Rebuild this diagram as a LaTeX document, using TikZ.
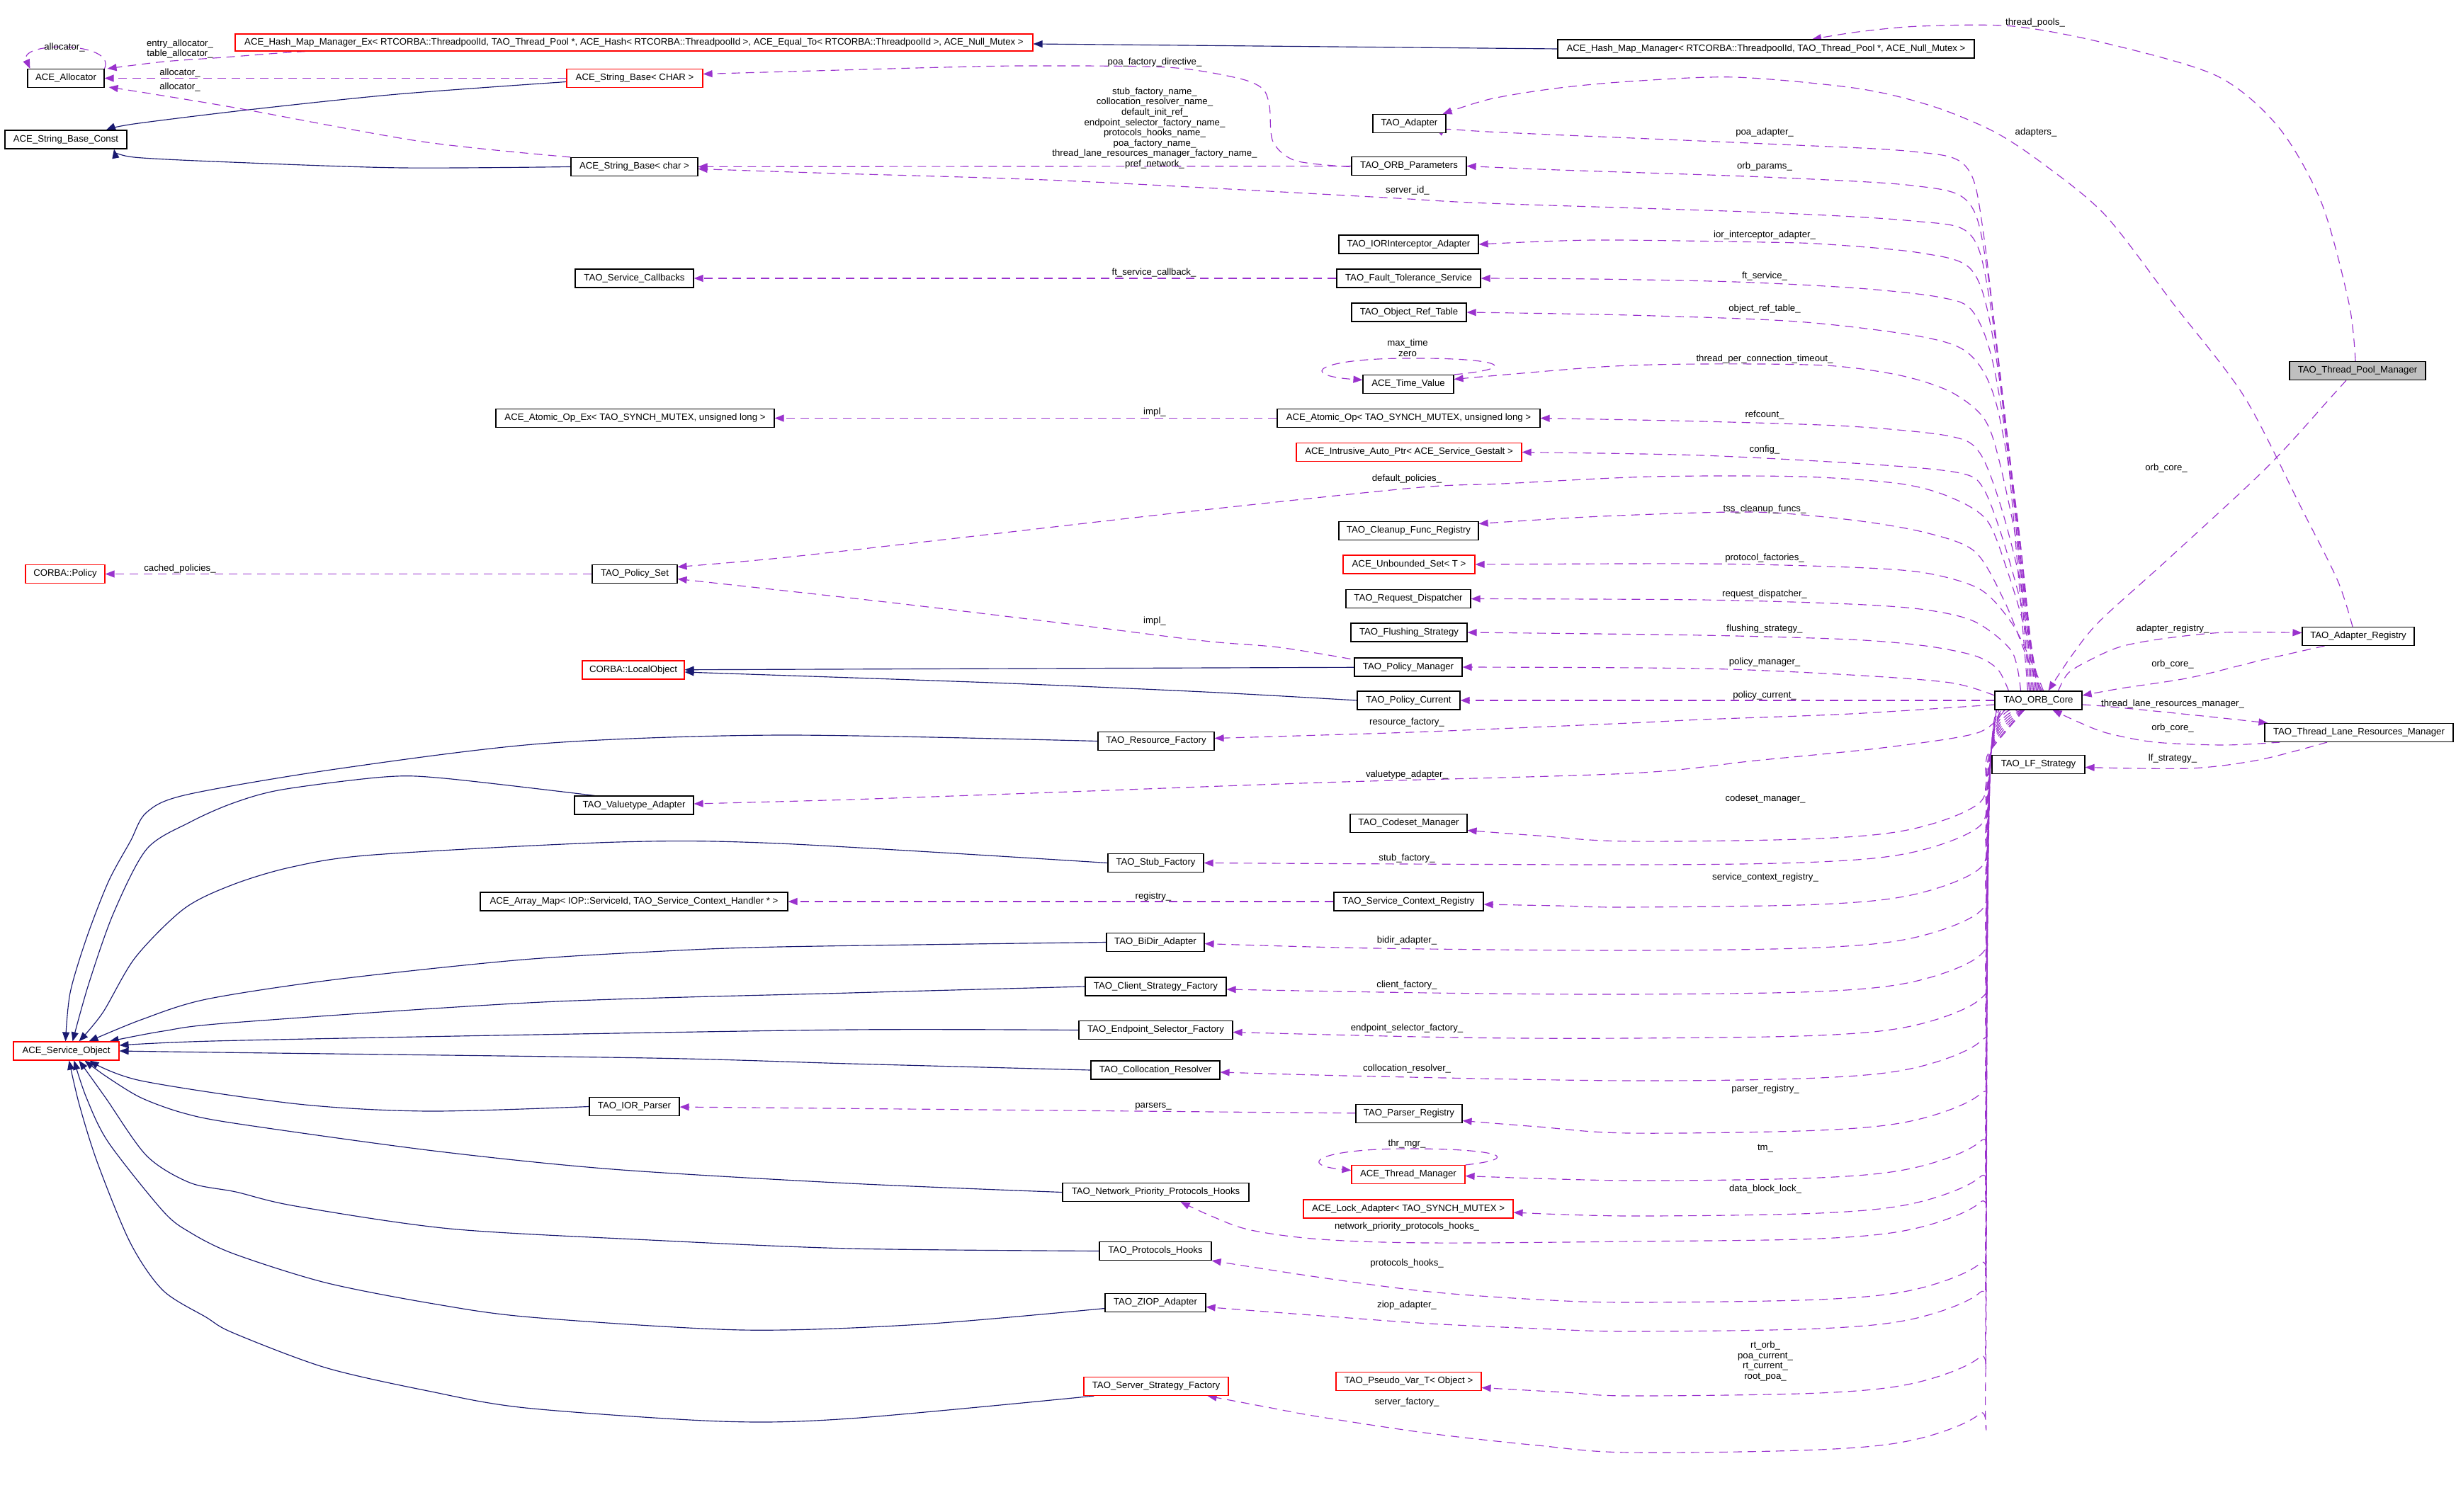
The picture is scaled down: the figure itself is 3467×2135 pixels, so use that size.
\documentclass[tikz,border=0pt]{standalone}
\usepackage{fontspec}
\setmainfont{Liberation Sans}
\usetikzlibrary{arrows.meta,calc}
\definecolor{purp}{HTML}{9A32CD}
\definecolor{navy}{HTML}{191970}
\definecolor{grayfill}{HTML}{BFBFBF}
\newcommand\lbl{\fontsize{13.2}{14.6}\selectfont}
\pgfdeclarelayer{edges}
\pgfsetlayers{edges,main}
\newcommand\lowedge[2]{\draw[use] plot[smooth,tension=0.55] coordinates {(cS) (2811,1058) (2803,#1-110) (2795,#1-55) (2702,#1-18) (2568,#1-4) (2300,#1) #2};}
\begin{document}
\begin{tikzpicture}[x=1pt,y=-1pt,
 box/.style={draw=black,line width=1.15pt,fill=white,minimum height=26pt,inner xsep=3pt,inner ysep=0pt,font=\lbl},
 rbox/.style={box,draw=red},
 lab/.style={font=\lbl,inner sep=0pt,align=center},
 use/.style={draw=purp,line width=1.15pt,dash pattern=on 12pt off 8pt,-{Triangle[length=13pt,width=10pt]}},
 inh/.style={draw=navy,line width=1.15pt,-{Triangle[length=13pt,width=10pt]}}]
\useasboundingbox (0,0) rectangle (3467,2135);
% ---------------- nodes
\node[box,minimum width=108pt] (alloc) at (93,110.5) {ACE\_Allocator};
\node[box,minimum width=172pt] (sbconst) at (93,197) {ACE\_String\_Base\_Const};
\node[rbox,minimum width=1126pt,minimum height=24pt] (hmmex) at (895,60) {ACE\_Hash\_Map\_Manager\_Ex< RTCORBA::ThreadpoolId, TAO\_Thread\_Pool *, ACE\_Hash< RTCORBA::ThreadpoolId >, ACE\_Equal\_To< RTCORBA::ThreadpoolId >, ACE\_Null\_Mutex >};
\node[rbox,minimum width=192pt] (sbCHAR) at (896,110.5) {ACE\_String\_Base< CHAR >};
\node[box,minimum width=179pt] (sbchar) at (895.5,235.5) {ACE\_String\_Base< char >};
\node[box,minimum width=588pt] (hmm) at (2493,69) {ACE\_Hash\_Map\_Manager< RTCORBA::ThreadpoolId, TAO\_Thread\_Pool *, ACE\_Null\_Mutex >};
\node[box,fill=grayfill,minimum width=192pt] (tpm) at (3328,523.5) {TAO\_Thread\_Pool\_Manager};
\node[box,minimum width=103pt] (adapter) at (1989.5,174.5) {TAO\_Adapter};
\node[box,minimum width=162pt] (orbparams) at (1989,234.5) {TAO\_ORB\_Parameters};
\node[box,minimum width=197pt] (ioria) at (1988.5,345) {TAO\_IORInterceptor\_Adapter};
\node[box,minimum width=167pt] (svccb) at (895.5,393) {TAO\_Service\_Callbacks};
\node[box,minimum width=203pt] (fts) at (1988.5,393) {TAO\_Fault\_Tolerance\_Service};
\node[box,minimum width=162pt] (ort) at (1989,441) {TAO\_Object\_Ref\_Table};
\node[box,minimum width=128pt] (tv) at (1988,542.5) {ACE\_Time\_Value};
\node[box,minimum width=393pt] (aopex) at (896.5,590.5) {ACE\_Atomic\_Op\_Ex< TAO\_SYNCH\_MUTEX, unsigned long >};
\node[box,minimum width=371pt] (aop) at (1988.5,590.5) {ACE\_Atomic\_Op< TAO\_SYNCH\_MUTEX, unsigned long >};
\node[rbox,minimum width=318pt] (iap) at (1989,638.5) {ACE\_Intrusive\_Auto\_Ptr< ACE\_Service\_Gestalt >};
\node[box,minimum width=197pt] (cfr) at (1988.5,749.5) {TAO\_Cleanup\_Func\_Registry};
\node[rbox,minimum width=186pt] (uset) at (1989,797) {ACE\_Unbounded\_Set< T >};
\node[box,minimum width=176pt] (rd) at (1988,845.5) {TAO\_Request\_Dispatcher};
\node[rbox,minimum width=112pt] (cpolicy) at (92,810.5) {CORBA::Policy};
\node[box,minimum width=120pt] (pset) at (896,810.5) {TAO\_Policy\_Set};
\node[box,minimum width=164pt] (flush) at (1989,893) {TAO\_Flushing\_Strategy};
\node[box,minimum width=152pt] (pman) at (1988,942) {TAO\_Policy\_Manager};
\node[box,minimum width=145pt] (pcur) at (1988.5,989) {TAO\_Policy\_Current};
\node[rbox,minimum width=144pt] (lobj) at (894,946) {CORBA::LocalObject};
\node[box,minimum width=123pt] (core) at (2877.5,989) {TAO\_ORB\_Core};
\node[box,minimum width=158pt] (areg) at (3329,898.5) {TAO\_Adapter\_Registry};
\node[box,minimum width=266pt] (tlrm) at (3330,1034.5) {TAO\_Thread\_Lane\_Resources\_Manager};
\node[box,minimum width=131pt] (lfs) at (2877.5,1079.5) {TAO\_LF\_Strategy};
\node[box,minimum width=168pt] (vta) at (895,1137) {TAO\_Valuetype\_Adapter};
\node[box,minimum width=434pt] (amap) at (895,1273) {ACE\_Array\_Map< IOP::ServiceId, TAO\_Service\_Context\_Handler * >};
\node[rbox,minimum width=149pt] (aso) at (93.5,1484) {ACE\_Service\_Object};
\node[box,minimum width=127pt] (iorp) at (895.5,1562.5) {TAO\_IOR\_Parser};
\node[box,minimum width=164pt] (rf) at (1632,1046.5) {TAO\_Resource\_Factory};
\node[box,minimum width=165pt] (csm) at (1988.5,1162.5) {TAO\_Codeset\_Manager};
\node[box,minimum width=135pt] (sf) at (1631.5,1218.5) {TAO\_Stub\_Factory};
\node[box,minimum width=211pt] (scr) at (1988.5,1273) {TAO\_Service\_Context\_Registry};
\node[box,minimum width=138pt] (bidir) at (1631,1330.5) {TAO\_BiDir\_Adapter};
\node[box,minimum width=199pt] (csf) at (1631.5,1393) {TAO\_Client\_Strategy\_Factory};
\node[box,minimum width=217pt] (esf) at (1631.5,1454.5) {TAO\_Endpoint\_Selector\_Factory};
\node[box,minimum width=182pt] (cres) at (1631,1511) {TAO\_Collocation\_Resolver};
\node[box,minimum width=150pt] (preg) at (1989,1572.5) {TAO\_Parser\_Registry};
\node[rbox,minimum width=160pt] (thrm) at (1988,1658.5) {ACE\_Thread\_Manager};
\node[box,minimum width=263pt] (npph) at (1631.5,1683.5) {TAO\_Network\_Priority\_Protocols\_Hooks};
\node[rbox,minimum width=296pt] (lad) at (1988,1707) {ACE\_Lock\_Adapter< TAO\_SYNCH\_MUTEX >};
\node[box,minimum width=158pt] (ph) at (1631,1766.5) {TAO\_Protocols\_Hooks};
\node[box,minimum width=142pt] (ziop) at (1631,1839.5) {TAO\_ZIOP\_Adapter};
\node[rbox,minimum width=204pt] (ssf) at (1632,1957.5) {TAO\_Server\_Strategy\_Factory};
\node[rbox,minimum width=205pt] (pvar) at (1988.5,1950.5) {TAO\_Pseudo\_Var\_T< Object >};
\coordinate (cS) at ($(core.south)+(-20,0)$);
% ---------------- labels
\node[lab] (l01) at (91,67) {allocator\_};
\node[lab] (l02) at (254,69) {entry\_allocator\_\\table\_allocator\_};
\node[lab] (l03) at (254,103) {allocator\_};
\node[lab] (l04) at (254,123) {allocator\_};
\node[lab] (l05) at (1630,88) {poa\_factory\_directive\_};
\node[lab] (l06) at (1630,181) {stub\_factory\_name\_\\collocation\_resolver\_name\_\\default\_init\_ref\_\\endpoint\_selector\_factory\_name\_\\protocols\_hooks\_name\_\\poa\_factory\_name\_\\thread\_lane\_resources\_manager\_factory\_name\_\\pref\_network\_};
\node[lab] (l07) at (2873,32) {thread\_pools\_};
\node[lab] (l08) at (2491,187) {poa\_adapter\_};
\node[lab] (l09) at (2874,187) {adapters\_};
\node[lab] (l10) at (2491,235) {orb\_params\_};
\node[lab] (l11) at (1987,269) {server\_id\_};
\node[lab] (l12) at (2491,332) {ior\_interceptor\_adapter\_};
\node[lab] (l13) at (1629,385) {ft\_service\_callback\_};
\node[lab] (l14) at (2491,390) {ft\_service\_};
\node[lab] (l15) at (2491,436) {object\_ref\_table\_};
\node[lab] (l16) at (1987,491.5) {max\_time\\zero};
\node[lab] (l17) at (2491,507) {thread\_per\_connection\_timeout\_};
\node[lab] (l18) at (1630,582) {impl\_};
\node[lab] (l19) at (2491,586) {refcount\_};
\node[lab] (l20) at (2491,635) {config\_};
\node[lab] (l21) at (3058,661) {orb\_core\_};
\node[lab] (l22) at (1986,676) {default\_policies\_};
\node[lab] (l23) at (2491,719) {tss\_cleanup\_funcs\_};
\node[lab] (l24) at (2491,788) {protocol\_factories\_};
\node[lab] (l25) at (254,803) {cached\_policies\_};
\node[lab] (l26) at (2491,839) {request\_dispatcher\_};
\node[lab] (l27) at (1630,877) {impl\_};
\node[lab] (l28) at (2491,888) {flushing\_strategy\_};
\node[lab] (l29) at (3067,888) {adapter\_registry\_};
\node[lab] (l30) at (2491,935) {policy\_manager\_};
\node[lab] (l31) at (3067,938) {orb\_core\_};
\node[lab] (l32) at (2491,982) {policy\_current\_};
\node[lab] (l33) at (3067,994) {thread\_lane\_resources\_manager\_};
\node[lab] (l34) at (1986,1020) {resource\_factory\_};
\node[lab] (l35) at (3067,1028) {orb\_core\_};
\node[lab] (l36) at (3067,1071) {lf\_strategy\_};
\node[lab] (l37) at (1986,1094) {valuetype\_adapter\_};
\node[lab] (l38) at (2492,1128) {codeset\_manager\_};
\node[lab] (l39) at (1986,1212) {stub\_factory\_};
\node[lab] (l40) at (2492,1239) {service\_context\_registry\_};
\node[lab] (l41) at (1628,1266) {registry\_};
\node[lab] (l42) at (1986,1328) {bidir\_adapter\_};
\node[lab] (l43) at (1986,1391) {client\_factory\_};
\node[lab] (l44) at (1986,1452) {endpoint\_selector\_factory\_};
\node[lab] (l45) at (1986,1509) {collocation\_resolver\_};
\node[lab] (l46) at (2492,1538) {parser\_registry\_};
\node[lab] (l47) at (1628,1562) {parsers\_};
\node[lab] (l48) at (1986,1615) {thr\_mgr\_};
\node[lab] (l49) at (2492,1622) {tm\_};
\node[lab] (l50) at (2492,1679) {data\_block\_lock\_};
\node[lab] (l51) at (1986,1732) {network\_priority\_protocols\_hooks\_};
\node[lab] (l52) at (1986,1784) {protocols\_hooks\_};
\node[lab] (l53) at (1986,1843) {ziop\_adapter\_};
\node[lab] (l54) at (2492,1922) {rt\_orb\_\\poa\_current\_\\rt\_current\_\\root\_poa\_};
\node[lab] (l55) at (1986,1980) {server\_factory\_};
% ---------------- edges
\begin{pgfonlayer}{edges}
% inheritance
\draw[inh] (hmm.west) -- ($(hmmex.east)+(0,2)$);
\draw[inh] plot[smooth] coordinates {($(sbCHAR.west)+(0,5)$) (561,133) (351,155) (189,175) ($(sbconst.north)+(57,0)$)};
\draw[inh] plot[smooth] coordinates {(sbchar.west) (568,237) (351,230) (189,222) ($(sbconst.south)+(68,0)$)};
\draw[inh] (pman) -- (lobj);
\draw[inh] plot[smooth] coordinates {(pcur.west) (1700,977) (1400,964) ($(lobj.east)+(0,3)$)};
\draw[inh] plot[smooth] coordinates {(rf.west) (1100,1038) (765,1050) (474,1086) (264,1122) (207,1147) (184,1188) (153,1245) (122,1325) (99,1402) ($(aso.north)+(-1,0)$)};
\draw[inh] plot[smooth] coordinates {($(vta.north west)+(29,0)$) (627,1099) (543,1097) (398,1115) (329,1134) (268,1161) (207,1199) (160,1290) (125,1390) ($(aso.north)+(9,0)$)};
\draw[inh] plot[smooth] coordinates {(sf.west) (1100,1191) (872,1189) (528,1207) (413,1224) (329,1249) (260,1283) (191,1352) (145,1430) ($(aso.north)+(18,0)$)};
\draw[inh] plot[smooth] coordinates {(bidir.west) (1100,1337) (918,1344) (727,1356) (474,1383) (291,1411) (199,1440) ($(aso.north)+(32,0)$)};
\draw[inh] plot[smooth] coordinates {(csf.west) (1200,1402) (765,1415) (329,1444) (230,1456) ($(aso.north east)+(-14,0)$)};
\draw[inh] plot[smooth] coordinates {(esf.west) (1200,1454) (700,1462) (300,1470) ($(aso.east)+(0,-8)$)};
\draw[inh] plot[smooth] coordinates {(cres.west) (1200,1502) (918,1494) (306,1486) (aso.east)};
\draw[inh] plot[smooth] coordinates {(iorp.west) (604,1569) (421,1559) (199,1526) ($(aso.south)+(33,0)$)};
\draw[inh] plot[smooth] coordinates {(npph.west) (1200,1671) (865,1651) (612,1625) (337,1587) (260,1572) (199,1550) (150,1520) ($(aso.south)+(26,0)$)};
\draw[inh] plot[smooth] coordinates {(ph.west) (1200,1763) (918,1751) (635,1735) (417,1703) (333,1683) (268,1670) (207,1632) (149,1550) ($(aso.south)+(18,0)$)};
\draw[inh] plot[smooth] coordinates {($(ziop.west)+(0,8)$) (1300,1870) (1048,1878) (750,1860) (612,1841) (459,1811) (329,1770) (268,1740) (230,1710) (153,1613) (122,1550) ($(aso.south)+(11,0)$)};
\draw[inh] plot[smooth] coordinates {($(ssf.south west)+(15,0)$) (1200,2003) (1018,2007) (742,1988) (604,1964) (459,1931) (329,1882) (291,1860) (230,1822) (184,1755) (138,1643) (112,1560) ($(aso.south)+(4,0)$)};
% usage - left part
\draw[use] (alloc.north east) .. controls (165,58) and (25,58) .. ($(alloc.north west)+(4,0)$);
\draw[use] plot[smooth] coordinates {($(hmmex.south west)+(100,0)$) (393,75) (316,81) (232,87) ($(alloc.north east)+(4,0)$)};
\draw[use] (sbCHAR) -- (alloc);
\draw[use] plot[smooth] coordinates {(sbchar.north west) (596,200) (337,153) (211,132) ($(alloc.south east)+(6,-1)$)};
\draw[use] plot[smooth] coordinates {($(orbparams.west)+(-2,1)$) (1829,227) (1797,200) (1792,150) (1782,125) (1746,110) (1647,95) (1448,93) (1332,95) (1150,100) ($(sbCHAR.east)+(0,-6)$)};
\draw[use] (orbparams) -- (sbchar);
\draw[use] (fts) -- (svccb);
\draw[use] (aop) -- (aopex);
\draw[use] (pset) -- (cpolicy);
\draw[use] plot[smooth] coordinates {($(pman.north west)+(-5,2)$) (1805,914) (1700,905) (1500,880) (1250,850) ($(pset.east)+(0,7)$)};
\draw[use] (scr) -- (amap);
\draw[use] (preg) -- (iorp);
\draw[use] (tv.north east) .. controls (2150,520) and (2120,505) .. (1988,506) .. controls (1860,506) and (1830,530) .. ($(tv.west)+(0,-6)$);
\draw[use] (thrm.north east) .. controls (2150,1636) and (2120,1622) .. (1988,1622) .. controls (1860,1622) and (1830,1645) .. ($(thrm.west)+(0,-6)$);
% right part
\draw[use] plot[smooth] coordinates {($(tpm.north)+(-3,0)$) (3316,429) (3277,286) (3216,179) (3129,107) (2972,61) (2841,37) (2710,37) (2623,45) ($(hmm.north)+(65,0)$)};
\draw[use] plot[smooth] coordinates {($(areg.north)+(-8,0)$) (3300,820) (3250,720) (3168,560) (3068,429) (2972,304) (2885,232) (2815,186) (2728,150) (2623,125) (2449,109) (2300,115) (2194,125) (2103,140) ($(adapter.north east)+(-5,0)$)};
\draw[use] plot[smooth] coordinates {($(tpm.south)+(-16,0)$) (3294,557) (3200,660) (3060,790) (2964,877) (2925,925) ($(core.north)+(14,0)$)};
\draw[use] plot[smooth] coordinates {($(core.north)+(28,0)$) (2920,950) (2954,930) (2994,913) (3052,902) (3140,893) ($(areg.west)+(0,-5)$)};
\draw[use] plot[smooth] coordinates {($(areg.south west)+(32,0)$) (3189,933) (3091,957) (2994,972) ($(core.east)+(0,-7)$)};
\draw[use] plot[smooth] coordinates {($(core.east)+(0,6)$) (2980,998) (3100,1010) ($(tlrm.north west)+(5,0)$)};
\draw[use] plot[smooth] coordinates {($(tlrm.south west)+(22,0)$) (3140,1052) (3042,1048) (2974,1035) (2935,1020) ($(core.south)+(20,0)$)};
\draw[use] plot[smooth] coordinates {($(tlrm.south)+(-45,0)$) (3189,1073) (3091,1085) ($(lfs.east)+(0,4)$)};
% upper bundle
\draw[use] plot[smooth] coordinates {($(core.north)+(-15,0)$) (2835,650) (2800,330) (2775,235) (2700,214) (2491,203) (2100,186) ($(adapter.east)+(0,5)$)};
\draw[use] plot[smooth] coordinates {($(core.north)+(-13,0)$) (2840,680) (2805,380) (2778,285) (2700,262) (2491,250) (2200,240) (orbparams.east)};
\draw[use] plot[smooth] coordinates {($(core.north)+(-11,0)$) (2843,700) (2808,420) (2780,330) (2700,312) (2491,300) (2100,287) (1937,278) (1500,255) (1150,244) ($(sbchar.east)+(0,3)$)};
\draw[use] plot[smooth] coordinates {($(core.north)+(-9,0)$) (2846,720) (2812,470) (2782,380) (2710,357) (2580,345) (2491,342) (2250,339) (ioria.east)};
\draw[use] plot[smooth] coordinates {($(core.north)+(-7,0)$) (2849,740) (2815,520) (2785,440) (2740,420) (2623,407) (2449,398) (2250,394) (fts.east)};
\draw[use] plot[smooth] coordinates {($(core.north)+(-5,0)$) (2851,760) (2818,570) (2780,500) (2710,475) (2536,454) (2300,445) (ort.east)};
\draw[use] plot[smooth] coordinates {($(core.north)+(-3,0)$) (2853,800) (2822,650) (2800,590) (2753,553) (2682,530) (2577,516) (2402,514) (2261,518) ($(tv.east)+(0,-7)$)};
\draw[use] plot[smooth] coordinates {($(core.north)+(-1,0)$) (2856,840) (2826,720) (2795,640) (2753,616) (2612,602) (2402,595) (aop.east)};
\draw[use] plot[smooth] coordinates {($(core.north)+(1,0)$) (2860,880) (2830,770) (2800,690) (2767,668) (2647,656) (2402,643) (iap.east)};
\draw[use] plot[smooth] coordinates {($(core.north)+(3,0)$) (2862,900) (2835,810) (2805,735) (2753,702) (2682,683) (2542,673) (2332,673) (2121,683) (1995,689) (1663,724) (1332,762) (1100,788) ($(pset.east)+(0,-10)$)};
\draw[use] plot[smooth] coordinates {($(core.north)+(5,0)$) (2862,930) (2830,850) (2788,779) (2718,752) (2612,734) (2472,723) (2261,729) ($(cfr.east)+(0,-10)$)};
\draw[use] plot[smooth] coordinates {($(core.north)+(7,0)$) (2870,940) (2840,880) (2795,832) (2718,809) (2612,801) (2402,796) (uset.east)};
\draw[use] plot[smooth] coordinates {($(core.north)+(-25,0)$) (2840,920) (2788,878) (2718,861) (2612,853) (2402,847) (rd.east)};
\draw[use] plot[smooth] coordinates {($(core.north west)+(20,0)$) (2820,945) (2788,926) (2718,912) (2612,903) (2402,897) (flush.east)};
\draw[use] plot[smooth] coordinates {($(core.west)+(0,-7)$) (2753,964) (2612,953) (2402,944) (pman.east)};
\draw[use] (core.west) -- (pcur.east);
\draw[use] plot[smooth] coordinates {($(core.west)+(0,6)$) (2612,1008) (2402,1016) (2300,1021) (2018,1033) (1865,1038) ($(rf.east)+(0,-4)$)};
\draw[use] plot[smooth] coordinates {($(core.south west)+(14,0)$) (2791,1035) (2657,1056) (2478,1074) (2300,1092) (1865,1105) (1483,1119) (1200,1129) ($(vta.east)+(0,-2)$)};
% lower bundle
\lowedge{1188}{(2171,1180) ($(csm.east)+(0,10)$)}
\lowedge{1221}{(sf.east)}
\lowedge{1281}{(2200,1279) ($(scr.east)+(0,4)$)}
\lowedge{1342}{(1942,1339) ($(bidir.east)+(0,2)$)}
\lowedge{1404}{(2018,1402) ($(csf.east)+(0,4)$)}
\lowedge{1466}{(2056,1465) ($(esf.east)+(0,3)$)}
\lowedge{1526}{(1942,1520) ($(cres.east)+(0,3)$)}
\lowedge{1600}{(2171,1591) ($(preg.east)+(0,10)$)}
\lowedge{1667}{($(thrm.east)+(0,2)$)}
\lowedge{1717}{($(lad.east)+(0,5)$)}
\lowedge{1753}{(2018,1755) (1865,1750) (1766,1737) (1712,1718) ($(npph.south east)+(-97,0)$)}
\lowedge{1839}{(2171,1835) (2018,1824) (1865,1804) (ph.south east)}
\lowedge{1880}{(2171,1876) (2018,1869) (1865,1858) ($(ziop.east)+(0,6)$)}
\lowedge{1971}{(2209,1966) ($(pvar.east)+(0,9)$)}
\lowedge{2051}{(2171,2041) (2018,2024) (1865,2001) (1789,1987) ($(ssf.south east)+(-30,0)$)}
\end{pgfonlayer}
\end{tikzpicture}
\end{document}
